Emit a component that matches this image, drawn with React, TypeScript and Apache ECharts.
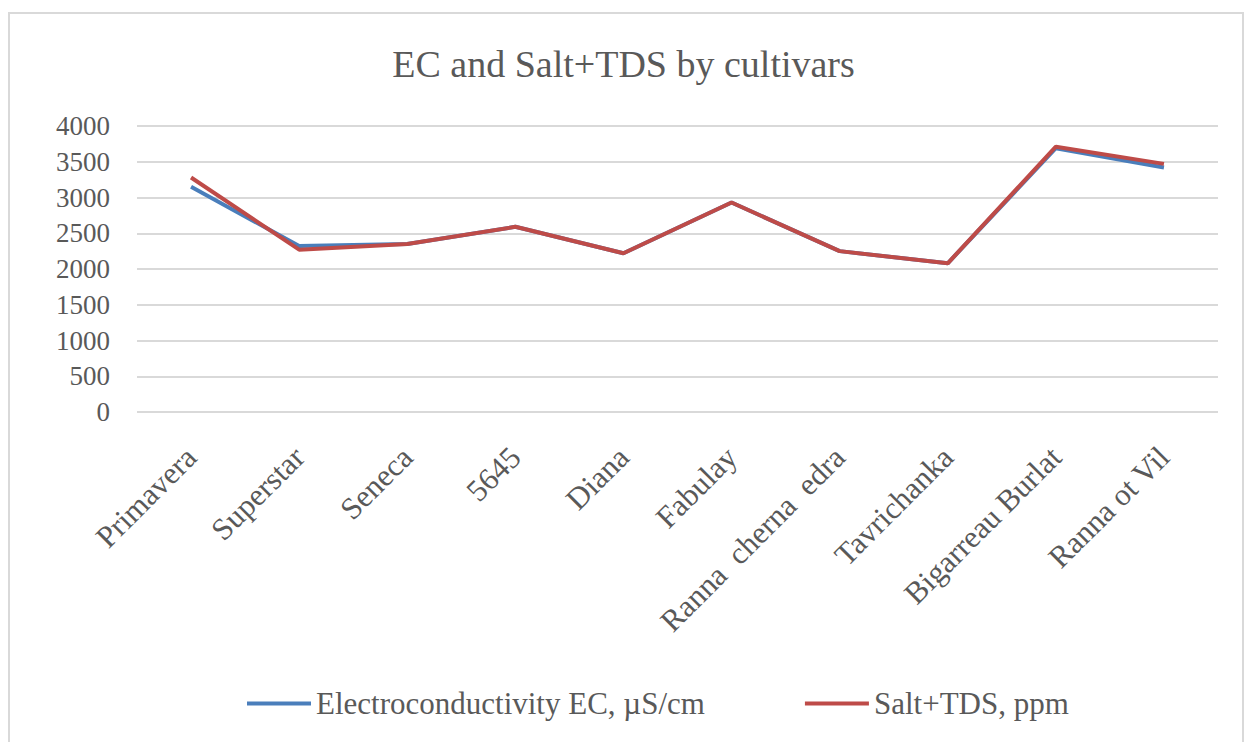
import React, { useEffect, useRef } from "react";
import * as echarts from "echarts";

// Cultivars along the category axis
const cultivars = [
  "Primavera",
  "Superstar",
  "Seneca",
  "5645",
  "Diana",
  "Fabulay",
  "Ranna  cherna  edra",
  "Tavrichanka",
  "Bigarreau Burlat",
  "Ranna ot Vil",
];

// Electroconductivity EC, µS/cm
const ecValues = [3150, 2320, 2350, 2590, 2220, 2930, 2250, 2080, 3690, 3420];

// Salt+TDS, ppm
const tdsValues = [3280, 2270, 2350, 2590, 2220, 2930, 2250, 2080, 3710, 3470];

const yMin = 0;
const yMax = 4000;
const yStep = 500;

const chartTitle = "EC and Salt+TDS by cultivars";
const ecName = "Electroconductivity EC, µS/cm";
const tdsName = "Salt+TDS, ppm";

const FONT = "'Liberation Serif', 'Times New Roman', serif";
const TEXT_COLOR = "#595959";

export default function App() {
  const ref = useRef<HTMLDivElement>(null);

  useEffect(() => {
    if (!ref.current) return;
    const chart = echarts.init(ref.current, undefined, { renderer: "svg" });
    chart.setOption({
      animation: false,
      backgroundColor: "#ffffff",
      title: {
        text: chartTitle,
        left: "center",
        top: 40,
        textStyle: {
          fontFamily: FONT,
          fontSize: 38,
          fontWeight: "normal",
          color: TEXT_COLOR,
        },
      },
      graphic: [
        {
          type: "rect",
          shape: { x: 9, y: 13, width: 1234, height: 740 },
          style: { fill: "none", stroke: "#d9d9d9", lineWidth: 2 },
          silent: true,
          z: -1,
        },
      ],
      legend: {
        bottom: 18,
        left: 242,
        icon: "rect",
        itemWidth: 64,
        itemHeight: 4,
        itemGap: 100,
        textStyle: {
          fontFamily: FONT,
          fontSize: 31,
          color: TEXT_COLOR,
        },
        data: [ecName, tdsName],
      },
      grid: {
        left: 137,
        right: 29,
        top: 126,
        bottom: 330,
        containLabel: false,
      },
      xAxis: {
        type: "category",
        data: cultivars,
        boundaryGap: true,
        axisLine: { show: false },
        axisTick: { show: false },
        axisLabel: {
          rotate: 45,
          interval: 0,
          margin: 40,
          fontFamily: FONT,
          fontSize: 31,
          color: TEXT_COLOR,
        },
      },
      yAxis: {
        type: "value",
        min: yMin,
        max: yMax,
        interval: yStep,
        axisLine: { show: false },
        axisTick: { show: false },
        axisLabel: {
          margin: 27,
          fontFamily: FONT,
          fontSize: 27,
          color: TEXT_COLOR,
          formatter: (v: number) => String(v),
        },
        splitLine: { lineStyle: { color: "#d9d9d9", width: 2 } },
      },
      series: [
        {
          name: ecName,
          type: "line",
          data: ecValues,
          showSymbol: false,
          symbol: "none",
          lineStyle: { color: "#4a7ebb", width: 4 },
          itemStyle: { color: "#4a7ebb" },
          z: 2,
        },
        {
          name: tdsName,
          type: "line",
          data: tdsValues,
          showSymbol: false,
          symbol: "none",
          lineStyle: { color: "#be4b48", width: 4 },
          itemStyle: { color: "#be4b48" },
          z: 3,
        },
      ],
    });
    return () => chart.dispose();
  }, []);

  return (
    <div
      ref={ref}
      style={{ position: "fixed", left: 0, top: 0, width: 1247, height: 742 }}
    />
  );
}
